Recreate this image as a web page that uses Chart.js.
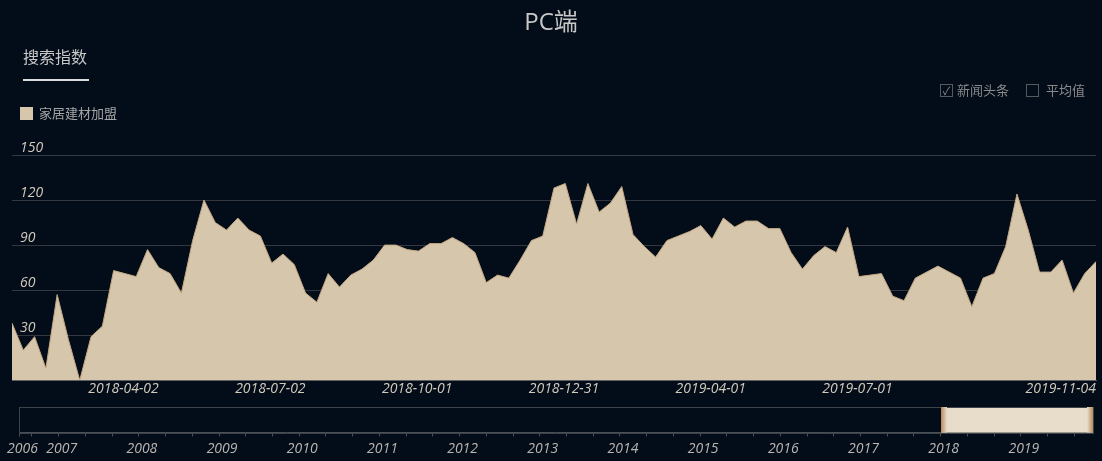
<!DOCTYPE html>
<html><head><meta charset="utf-8">
<script src="https://cdn.jsdelivr.net/npm/chart.js@4/dist/chart.umd.min.js"></script>
<style>
html,body{margin:0;padding:0;background:#030c19;width:1102px;height:461px;overflow:hidden;font-family:"Open Sans","Noto Sans CJK SC",sans-serif;}
#wrap{position:relative;width:1102px;height:461px;}
.abs{position:absolute;white-space:nowrap;line-height:1;}
#title{left:0;width:1102px;top:9px;text-align:center;font-size:24px;color:#c8c8c8;}
#tab{left:23px;top:48px;font-size:16px;color:#c8c8c8;font-family:"Noto Sans CJK SC",sans-serif;}
#tabline{left:23px;top:79px;width:66px;height:2px;background:#dcdcdc;}
#legsq{left:20px;top:107px;width:13px;height:13px;background:#d6c6ab;}
#legtx{left:39px;top:106px;font-size:13px;color:#a6a6a6;font-family:"Noto Sans CJK SC",sans-serif;}
.cb{position:absolute;width:11px;height:11px;border:1px solid #555a60;color:#8a8a8a;font-size:11px;line-height:11px;text-align:center;}
.cbt{font-size:13px;color:#8a8a8a;font-family:"Noto Sans CJK SC",sans-serif;}
#main{position:absolute;left:0;top:0;}
#nav{position:absolute;left:0;top:395px;}
</style></head>
<body><div id="wrap">
<canvas id="main" width="1102" height="400"></canvas>
<canvas id="nav" width="1102" height="66"></canvas>
<div class="abs" id="title">PC端</div>
<div class="abs" id="tab">搜索指数</div>
<div class="abs" id="tabline"></div>
<div class="abs" id="legsq"></div>
<div class="abs" id="legtx">家居建材加盟</div>
<div class="cb" style="left:940px;top:84px;">✓</div>
<div class="abs cbt" style="left:957px;top:83px;">新闻头条</div>
<div class="cb" style="left:1026px;top:84px;"></div>
<div class="abs cbt" style="left:1046px;top:83px;">平均值</div>
</div>
<script>
// ---- data ----
const startDate = '2018-01-01';           // first weekly category
const weekCount = 97;
const seriesName = '家居建材加盟';
const seriesValues = [38,20,29,8,57,27,0,29,36,73,71,69,87,75,71,58,93,120,105,100,108,100,96,78,84,77,58,52,71,62,70,74,80,90,90,87,86,91,91,95,91,85,65,70,68,80,93,96,128,131,104,131,112,118,129,97,89,82,93,96,99,103,94,108,102,106,106,101,101,85,74,83,89,85,102,69,70,71,56,53,68,72,76,72,68,49,68,71,89,124,100,72,72,80,58,71,79];
const xTickLabels = ['2018-04-02','2018-07-02','2018-10-01','2018-12-31','2019-04-01','2019-07-01','2019-11-04'];
const yTicks = [0,30,60,90,120,150];
const navRange = [2006.51, 2019.9];
const navSelection = [2018, 2019.9];
const navFirstLabel = '2006';

// weekly categories
const categories = [];
{
  const d0 = new Date(startDate + 'T00:00:00Z');
  for (let i = 0; i < weekCount; i++) {
    const d = new Date(d0.getTime() + i * 7 * 86400000);
    categories.push(d.toISOString().slice(0, 10));
  }
}

const fill = '#d6c6ab';
const edge = '#c4a783';
const textCol = '#d2cabb';

new Chart(document.getElementById('main'), {
  type: 'line',
  data: {
    labels: categories,
    datasets: [{
      label: seriesName,
      data: seriesValues,
      fill: 'origin',
      backgroundColor: fill,
      borderColor: edge,
      borderWidth: 1,
      pointRadius: 0,
      tension: 0
    }]
  },
  options: {
    responsive: false,
    devicePixelRatio: 1,
    animation: false,
    layout: { padding: { left: -4, right: 6, top: 155, bottom: 3 } },
    plugins: { legend: { display: false }, tooltip: { enabled: false } },
    scales: {
      x: {
        type: 'category',
        offset: false,
        grid: { display: false, tickLength: 0 },
        border: { display: true, color: '#5d6065', width: 1 },
        ticks: {
          autoSkip: false, maxRotation: 0, minRotation: 0, align: 'end', padding: 0,
          color: textCol,
          font: { family: 'Open Sans', size: 14, style: 'italic' },
          callback: function (v) { const l = this.getLabelForValue(v); return xTickLabels.includes(l) ? l : ''; }
        }
      },
      y: {
        min: yTicks[0], max: yTicks[yTicks.length - 1],
        afterBuildTicks: s => { s.ticks = yTicks.map(v => ({ value: v })); },
        grid: { color: '#34383e', lineWidth: 1, drawTicks: false, tickLength: 0 },
        border: { display: false },
        ticks: {
          mirror: true, padding: 8, labelOffset: -7,
          color: textCol,
          font: { family: 'Open Sans', size: 14, style: 'italic' },
          callback: v => v === 0 ? '' : String(v)
        }
      }
    }
  }
});

// ---- navigator ----
const navTickValues = [];
for (let k = Math.ceil(navRange[0] * 3); k <= Math.floor(navRange[1] * 3); k++) navTickValues.push(k);

const navPlugin = {
  id: 'navBox',
  beforeDatasetsDraw(chart) {
    const { ctx, chartArea: a, scales: { x } } = chart;
    ctx.save();
    const sx = Math.round(x.getPixelForValue(navSelection[0]));
    const ex = Math.round(x.getPixelForValue(navSelection[1]));
    ctx.fillStyle = '#e8ddca';
    ctx.fillRect(sx, a.top, ex - sx, a.bottom - a.top);
    ctx.strokeStyle = '#3e4349';
    ctx.lineWidth = 1;
    ctx.strokeRect(Math.round(a.left) + 0.5, Math.round(a.top) + 0.5, Math.round(a.right - a.left), Math.round(a.bottom - a.top));
    const g1 = ctx.createLinearGradient(sx, 0, sx + 6, 0);
    g1.addColorStop(0, '#b98b5c'); g1.addColorStop(1, '#e8ddca');
    ctx.fillStyle = g1;
    ctx.fillRect(sx, a.top, 6, a.bottom - a.top);
    const g2 = ctx.createLinearGradient(ex - 6, 0, ex, 0);
    g2.addColorStop(0, '#e8ddca'); g2.addColorStop(1, '#b98b5c');
    ctx.fillStyle = g2;
    ctx.fillRect(ex - 6, a.top, 6, a.bottom - a.top);
    ctx.restore();
  }
};

new Chart(document.getElementById('nav'), {
  type: 'line',
  data: { datasets: [] },
  plugins: [navPlugin],
  options: {
    responsive: false,
    devicePixelRatio: 1,
    animation: false,
    layout: { padding: { left: 13, right: 9, top: 12, bottom: 3 } },
    plugins: { legend: { display: false }, tooltip: { enabled: false } },
    scales: {
      x: {
        type: 'linear', min: navRange[0], max: navRange[1],
        afterBuildTicks: s => {
          s.ticks = [{ value: navRange[0] }].concat(navTickValues.map(k => ({ value: k / 3 })));
        },
        grid: { drawOnChartArea: false, drawTicks: true, tickLength: 4, color: '#4a4f55' },
        border: { display: true, color: '#4a4f55' },
        ticks: {
          autoSkip: false, maxRotation: 0, minRotation: 0, padding: 4, labelOffset: 3,
          color: '#b9b6b0',
          font: { family: 'Open Sans', size: 14, style: 'italic' },
          callback: v => {
            if (v === navRange[0]) return navFirstLabel;
            const k = Math.round(v * 3);
            return (k % 3 === 0 && Math.abs(v * 3 - k) < 1e-6) ? String(k / 3) : '';
          }
        }
      },
      y: { display: false, min: 0, max: 1 }
    }
  }
});
</script>
</body></html>
